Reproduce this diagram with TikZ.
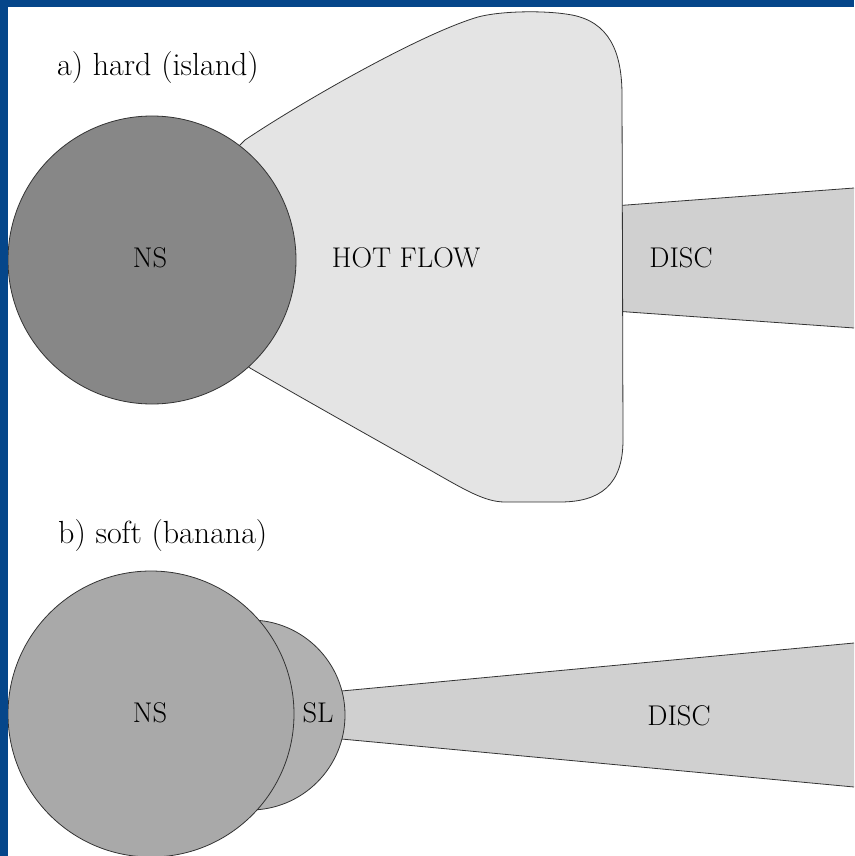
\documentclass[tikz,border=0pt]{standalone}
\usepackage{tikz}
\definecolor{framebl}{HTML}{05468A}
\definecolor{nsdark}{HTML}{878787}
\definecolor{nslight}{HTML}{A9A9A9}
\definecolor{slgray}{HTML}{B1B1B1}
\definecolor{hotgray}{HTML}{E4E4E4}
\definecolor{discgray}{HTML}{D0D0D0}
\definecolor{edgegray}{HTML}{333333}
\tikzset{
  part/.style={draw=edgegray, line width=0.8pt},
  lbl/.style={font=\fontsize{28.5}{32}\selectfont, inner sep=0pt, text=black},
  title/.style={font=\fontsize{32}{36}\selectfont, inner sep=0pt, anchor=base west, text=black}
}
\begin{document}
\begin{tikzpicture}[x=1pt,y=-1pt]
\useasboundingbox (0,0) rectangle (854,856);
\begin{scope}
\clip (0,0) rectangle (854,856);

% ---- a) hard state: disc, hot flow, neutron star ----
\fill[discgray] (600,207) -- (854,188) -- (854,328) -- (600,310) -- cycle;
\draw[part] (600,207) -- (854,188);
\draw[part] (600,310) -- (854,328);

\draw[part, fill=hotgray]
  (215,170) -- (245,140)
  .. controls (300,103) and (420,34) .. (478,17)
  .. controls (500,11) and (545,10) .. (572,15)
  .. controls (608,22) and (622,50) .. (622,95)
  -- (623,440)
  .. controls (623,485) and (600,502) .. (560,502)
  -- (505,502)
  .. controls (485,502) and (465,490) .. (430,470)
  .. controls (380,442) and (300,397) .. (250,368)
  -- (215,340) -- cycle;

\draw[part, fill=nsdark] (152,260) circle[radius=144];

\node[title] (ta) at (57,76) {a) hard (island)};
\node[lbl] (ns1) at (150,258) {NS};
\node[lbl] (hot) at (406,258) {HOT FLOW};
\node[lbl] (disc1) at (681,258) {DISC};

% ---- b) soft state: disc, spreading layer, neutron star ----
\fill[discgray] (320,693) -- (854,643) -- (854,787) -- (320,737) -- cycle;
\draw[part] (320,693) -- (854,643);
\draw[part] (320,737) -- (854,787);

\draw[part, fill=slgray] (250,715) circle[radius=95];
\draw[part, fill=nslight] (151,714) circle[radius=143];

\node[title] (tb) at (58,543) {b) soft (banana)};
\node[lbl] (ns2) at (150,713) {NS};
\node[lbl] (sl) at (318,713) {SL};
\node[lbl] (disc2) at (679,716) {DISC};
\end{scope}

% ---- frame strips ----
\fill[framebl] (0,0) rectangle (854,7);
\fill[framebl] (0,0) rectangle (8,856);
\end{tikzpicture}
\end{document}
